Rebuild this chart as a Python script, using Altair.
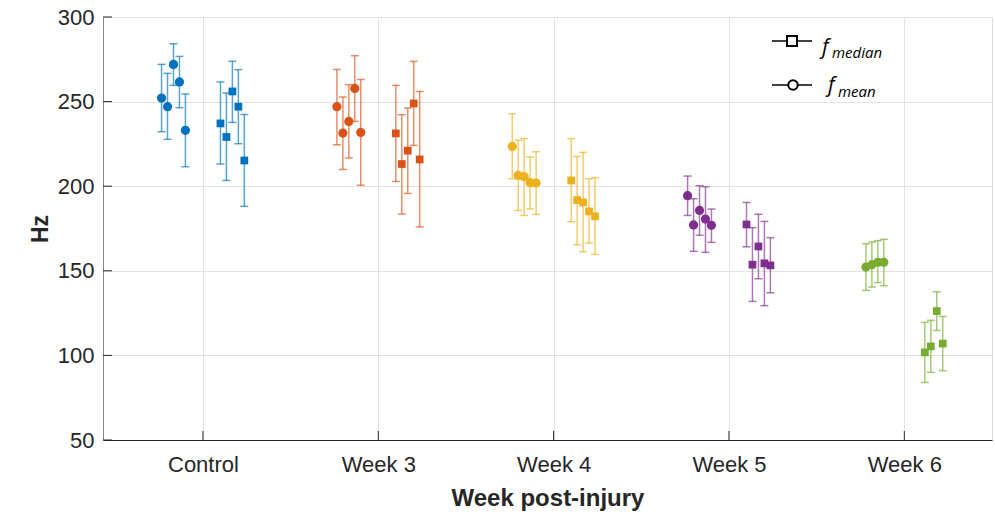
import altair as alt
import pandas as pd

categories = ["Control", "Week 3", "Week 4", "Week 5", "Week 6"]
colors = ["#0072BD", "#D95319", "#EDB120", "#7E2F8E", "#77AC30"]

mean_val = [
    [252.1, 247.0, 272.0, 261.6, 233.0],
    [247.0, 231.4, 238.3, 257.8, 231.8],
    [223.5, 206.4, 205.6, 202.1, 201.9],
    [194.4, 177.1, 185.7, 180.6, 176.9],
    [152.2, 153.6, 155.0, 155.0],
]
mean_lo = [
    [232.2, 227.7, 259.6, 246.4, 211.5],
    [224.5, 209.9, 216.7, 238.3, 200.5],
    [204.4, 185.7, 182.7, 186.5, 183.3],
    [182.7, 161.5, 171.0, 160.9, 166.8],
    [138.4, 140.4, 143.0, 141.2],
]
mean_hi = [
    [272.0, 266.7, 284.2, 276.7, 254.5],
    [269.0, 252.7, 260.0, 277.1, 263.1],
    [242.7, 227.1, 228.1, 217.3, 220.4],
    [206.0, 192.6, 200.3, 199.7, 186.5],
    [166.0, 167.0, 167.8, 168.6],
]
median_val = [
    [237.1, 229.1, 256.0, 247.0, 215.2],
    [231.2, 213.1, 221.0, 248.9, 215.8],
    [203.4, 191.8, 190.4, 185.1, 182.2],
    [177.4, 153.6, 164.4, 154.4, 153.2],
    [101.8, 105.3, 126.2, 107.0],
]
median_lo = [
    [213.1, 203.4, 237.7, 225.1, 188.1],
    [202.8, 183.6, 195.7, 224.1, 175.9],
    [179.0, 165.4, 161.3, 166.4, 159.7],
    [164.2, 131.9, 145.3, 129.4, 137.0],
    [84.0, 90.0, 114.8, 91.0],
]
median_hi = [
    [261.6, 255.1, 273.8, 268.9, 242.4],
    [259.6, 242.3, 246.2, 273.8, 256.0],
    [228.1, 217.6, 220.0, 204.3, 205.0],
    [190.4, 175.5, 183.4, 179.2, 169.6],
    [119.5, 120.7, 137.6, 123.0],
]
y_ticks = [50, 100, 150, 200, 250, 300]
x_ticks = [1, 2, 3, 4, 5]

rows = []
for g, cat in enumerate(categories):
    for kind, vals, los, his, side in [
        ("mean", mean_val[g], mean_lo[g], mean_hi[g], -1),
        ("median", median_val[g], median_lo[g], median_hi[g], 1),
    ]:
        n = len(vals)
        for i, (v, lo, hi) in enumerate(zip(vals, los, his)):
            rows.append(dict(cat=cat, kind=kind,
                             pos=g + 1 + side * 0.168 + (i - (n - 1) / 2) * 0.034,
                             val=v, lo=lo, hi=hi))
df = pd.DataFrame(rows)

FONT = "Liberation Sans"
TXT = "#262626"
W, H = 889, 423

label_expr = "[" + ",".join("'%s'" % c for c in categories) + "][datum.value - 1]"

xscale = alt.Scale(domain=[0.43, 5.5], nice=False, zero=False)
yscale = alt.Scale(domain=[50, 300], nice=False, zero=False)
cscale = alt.Scale(domain=categories, range=colors)

xaxis = alt.Axis(values=x_ticks, labelExpr=label_expr, grid=True, gridColor="#e3e3e3",
                 ticks=False, tickSize=0, domainColor=TXT, labelFont=FONT, labelFontSize=22,
                 labelColor=TXT, labelPadding=14, title="Week post-injury", titleFont=FONT,
                 titleFontSize=24, titleFontWeight="bold", titleColor=TXT,
                 titleBaseline="alphabetic", titleY=65)
yaxis = alt.Axis(values=y_ticks, grid=True, gridColor="#e3e3e3", ticks=False, tickSize=0,
                 domainColor="#8a8a8a", labelFont=FONT, labelFontSize=22, labelColor=TXT,
                 labelPadding=9, title="Hz", titleFont=FONT, titleFontSize=23,
                 titleFontWeight="bold", titleColor=TXT, titleBaseline="alphabetic",
                 titleX=-56)

base = alt.Chart(df)

err = base.mark_errorbar(ticks={"size": 8}, thickness=1.5, opacity=0.65).encode(
    x=alt.X("pos:Q", scale=xscale, axis=xaxis),
    y=alt.Y("lo:Q", scale=yscale, axis=yaxis),
    y2="hi:Q",
    color=alt.Color("cat:N", scale=cscale, legend=None),
)

pts = base.mark_point(filled=True, opacity=1).encode(
    x=alt.X("pos:Q", scale=xscale),
    y=alt.Y("val:Q", scale=yscale),
    color=alt.Color("cat:N", scale=cscale, legend=None),
    shape=alt.Shape("kind:N", scale=alt.Scale(domain=["mean", "median"], range=["circle", "square"]), legend=None),
    size=alt.Size("kind:N", scale=alt.Scale(domain=["mean", "median"], range=[85, 60]), legend=None),
)

yt = alt.Chart(pd.DataFrame({"v": y_ticks})).mark_rule(color=TXT, strokeWidth=1).encode(
    y=alt.Y("v:Q", scale=yscale), x=alt.value(0), x2=alt.value(9))
xt = alt.Chart(pd.DataFrame({"v": x_ticks})).mark_rule(color=TXT, strokeWidth=1).encode(
    x=alt.X("v:Q", scale=xscale), y=alt.value(H), y2=alt.value(H - 9))

# legend (drawn manually)
leg = pd.DataFrame({"kind": ["median", "mean"], "shape": ["square", "circle"],
                    "sub": ["median", "mean"]})
LX = 772 - 103
legs = []
for j, (yy, shp, sub, fb, sb) in enumerate([(41 - 17, "square", "median", 53.5 - 17, 58.3 - 17),
                                            (85 - 17, "circle", "mean", 92 - 17, 96.7 - 17)]):
    d = alt.Chart(pd.DataFrame({"k": [sub]}))
    legs.append(d.mark_rule(color="black", strokeWidth=1.3).encode(
        x=alt.value(LX), x2=alt.value(LX + 40), y=alt.value(yy)))
    legs.append(d.mark_point(shape=shp, filled=True, fill="white", stroke="black", strokeWidth=2,
                             size=100 if shp == "square" else 90, opacity=1).encode(
        x=alt.value(LX + 20 if shp == "square" else LX + 21), y=alt.value(yy)))
    legs.append(d.mark_text(text="f", font="Open Sans", fontStyle="italic", fontSize=21,
                            align="left", baseline="alphabetic", color="black").encode(
        x=alt.value(822 - 103 + (0 if j == 0 else 6)), y=alt.value(fb)))
    legs.append(d.mark_text(font="Open Sans", fontStyle="italic", fontSize=15,
                            align="left", baseline="alphabetic", color="black").encode(
        text="k:N", x=alt.value(832 - 103 + (0 if j == 0 else 6)), y=alt.value(sb)))

chart = alt.layer(err, pts, yt, xt, *legs).properties(
    width=W, height=H,
    padding={"left": 103, "top": 17, "right": 3, "bottom": 72},
    autosize=alt.AutoSizeParams(type="none"),
).configure_view(stroke=None).configure(background="white")

chart.save("out.html", embed_options={"renderer": "svg", "actions": False})
